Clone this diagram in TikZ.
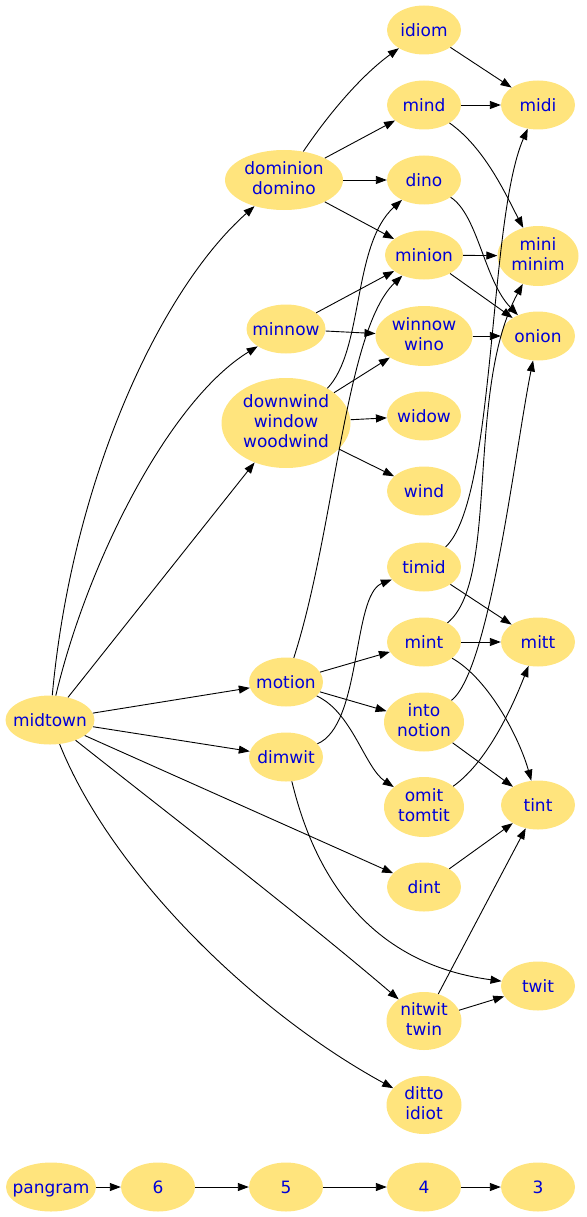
\documentclass[tikz,border=0pt]{standalone}
\usepackage{fontspec}
\setmainfont{DejaVu Sans}
\usetikzlibrary{arrows.meta, shapes.geometric}

\definecolor{oro}{RGB}{255,228,125}
\definecolor{azul}{RGB}{0,0,215}

\newcommand{\palo}{\rule[-3pt]{0pt}{19pt}}

\begin{document}
\begin{tikzpicture}[x=1pt, y=-1pt,
    palabra/.style={ellipse, fill=oro, text=azul, align=center,
      inner xsep=-14pt, inner ysep=-9pt,
      font=\fontsize{17}{20}\selectfont,
      execute at begin node=\palo, execute at end node=\palo,
      minimum width=74pt, minimum height=49pt},
    flecha/.style={-{Triangle[length=11pt, width=8pt]}, line width=0.9pt}]

  \useasboundingbox (0,0) rectangle (586,1217);

  % --- Palabras de 7 letras ---
  \node[palabra, minimum width=89pt] (midtown) at (50,720) {midtown};

  % --- Palabras de 5 letras ---
  \node[palabra, minimum width=118pt, minimum height=60pt] (dominion) at (284,180) {dominion\\domino};
  \node[palabra, minimum width=79pt] (minnow) at (286,329) {minnow};
  \node[palabra, minimum width=129pt, minimum height=90pt] (downwind) at (286,423) {downwind\\window\\woodwind};
  \node[palabra] (motion) at (286,682) {motion};
  \node[palabra] (dimwit) at (286,757) {dimwit};

  % --- Palabras de 4 letras ---
  \node[palabra] (idiom) at (424,30) {idiom};
  \node[palabra] (mind) at (424,105) {mind};
  \node[palabra] (dino) at (424,180) {dino};
  \node[palabra, minimum width=78pt] (minion) at (424,255) {minion};
  \node[palabra, minimum width=97pt, minimum height=60pt] (winnow) at (424,336) {winnow\\wino};
  \node[palabra] (widow) at (424,416) {widow};
  \node[palabra] (wind) at (424,491) {wind};
  \node[palabra] (timid) at (424,567) {timid};
  \node[palabra] (mint) at (424,642) {mint};
  \node[palabra, minimum width=80pt, minimum height=59pt] (into) at (424,722) {into\\notion};
  \node[palabra, minimum width=80pt, minimum height=60pt] (omit) at (424,807) {omit\\tomtit};
  \node[palabra] (dint) at (424,887) {dint};
  \node[palabra, minimum width=75pt, minimum height=58pt] (nitwit) at (424,1021) {nitwit\\twin};
  \node[palabra, minimum width=75pt, minimum height=58pt] (ditto) at (424,1105) {ditto\\idiot};

  % --- Palabras de 3 letras ---
  \node[palabra] (midi) at (538,105) {midi};
  \node[palabra, minimum width=81pt, minimum height=60pt] (mini) at (538,256) {mini\\minim};
  \node[palabra] (onion) at (538,336) {onion};
  \node[palabra] (mitt) at (538,642) {mitt};
  \node[palabra] (tint) at (538,805) {tint};
  \node[palabra] (twit) at (538,986) {twit};

  % --- Fila de niveles ---
  \node[palabra, minimum width=90pt] (pangram) at (51,1187) {pangram};
  \node[palabra] (n6) at (158,1187) {6};
  \node[palabra] (n5) at (286,1187) {5};
  \node[palabra] (n4) at (424,1187) {4};
  \node[palabra] (n3) at (538,1187) {3};

  % --- Desde midtown ---
  \draw[flecha] (midtown) .. controls (72,480) and (160,290) .. (dominion);
  \draw[flecha] (midtown) .. controls (88,560) and (170,400) .. (minnow);
  \draw[flecha] (midtown) -- (downwind);
  \draw[flecha] (midtown) -- (motion);
  \draw[flecha] (midtown) -- (dimwit);
  \draw[flecha] (midtown) -- (dint);
  \draw[flecha] (midtown) .. controls (170,815) and (300,915) .. (nitwit);
  \draw[flecha] (midtown) .. controls (110,870) and (250,1010) .. (ditto);

  % --- Nivel 5 a nivel 4 ---
  \draw[flecha] (dominion) .. controls (330,112) and (362,75) .. (idiom);
  \draw[flecha] (dominion) -- (mind);
  \draw[flecha] (dominion) -- (dino);
  \draw[flecha] (dominion) -- (minion);
  \draw[flecha] (minnow) -- (minion);
  \draw[flecha] (minnow) -- (winnow);
  \draw[flecha] (downwind.40) .. controls (364,350) and (352,245) .. (dino);
  \draw[flecha] (downwind) -- (winnow);
  \draw[flecha] (downwind) -- (widow);
  \draw[flecha] (downwind) -- (wind);
  \draw[flecha] (motion) .. controls (335,530) and (345,330) .. (minion);
  \draw[flecha] (motion) -- (mint);
  \draw[flecha] (motion) -- (into);
  \draw[flecha] (motion) .. controls (352,712) and (365,768) .. (omit);
  \draw[flecha] (dimwit) .. controls (362,725) and (352,595) .. (timid);
  \draw[flecha] (dimwit) .. controls (318,890) and (380,965) .. (twit);

  % --- Nivel 4 a nivel 3 ---
  \draw[flecha] (idiom) -- (midi);
  \draw[flecha] (mind) -- (midi);
  \draw[flecha] (mind) .. controls (485,148) and (506,195) .. (mini);
  \draw[flecha] (dino) .. controls (478,215) and (484,280) .. (onion);
  \draw[flecha] (minion) -- (mini);
  \draw[flecha] (minion) -- (onion);
  \draw[flecha] (winnow) -- (onion);
  \draw[flecha] (timid) .. controls (496,500) and (488,220) .. (midi);
  \draw[flecha] (timid) -- (mitt);
  \draw[flecha] (mint) .. controls (500,580) and (465,390) .. (mini);
  \draw[flecha] (mint) -- (mitt);
  \draw[flecha] (mint) .. controls (490,680) and (520,740) .. (tint);
  \draw[flecha] (into) .. controls (490,670) and (515,450) .. (onion);
  \draw[flecha] (into) -- (tint);
  \draw[flecha] (omit) .. controls (490,760) and (515,700) .. (mitt);
  \draw[flecha] (dint) -- (tint);
  \draw[flecha] (nitwit) -- (tint);
  \draw[flecha] (nitwit) -- (twit);

  % --- Cadena de niveles ---
  \draw[flecha] (pangram) -- (n6);
  \draw[flecha] (n6) -- (n5);
  \draw[flecha] (n5) -- (n4);
  \draw[flecha] (n4) -- (n3);

\end{tikzpicture}
\end{document}
